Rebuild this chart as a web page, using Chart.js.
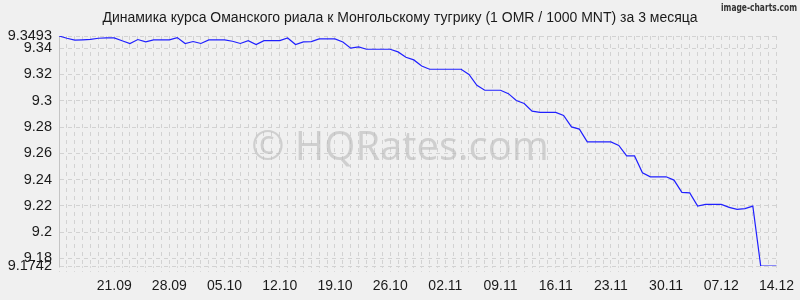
<!DOCTYPE html>
<html>
<head>
<meta charset="utf-8">
<script src="https://cdn.jsdelivr.net/npm/chart.js@4"></script>
<style>
    html, body { margin: 0; padding: 0; background: #f0f0f0; }
    #wrap { width: 800px; height: 300px; position: relative; }
</style>
</head>
<body>
<div id="wrap"><canvas id="rateChart" width="800" height="300"></canvas></div>
<script>
// Daily dates, 14.09 - 14.12
const dates = [
    '14.09', '15.09', '16.09', '17.09', '18.09', '19.09', '20.09', '21.09', '22.09', '23.09',
    '24.09', '25.09', '26.09', '27.09', '28.09', '29.09', '30.09', '01.10', '02.10', '03.10',
    '04.10', '05.10', '06.10', '07.10', '08.10', '09.10', '10.10', '11.10', '12.10', '13.10',
    '14.10', '15.10', '16.10', '17.10', '18.10', '19.10', '20.10', '21.10', '22.10', '23.10',
    '24.10', '25.10', '26.10', '27.10', '28.10', '29.10', '30.10', '31.10', '01.11', '02.11',
    '03.11', '04.11', '05.11', '06.11', '07.11', '08.11', '09.11', '10.11', '11.11', '12.11',
    '13.11', '14.11', '15.11', '16.11', '17.11', '18.11', '19.11', '20.11', '21.11', '22.11',
    '23.11', '24.11', '25.11', '26.11', '27.11', '28.11', '29.11', '30.11', '01.12', '02.12',
    '03.12', '04.12', '05.12', '06.12', '07.12', '08.12', '09.12', '10.12', '11.12', '12.12',
    '13.12', '14.12'
];

// OMR/MNT rate (per 1000 MNT)
const rates = [
    9.3493, 9.3476, 9.3461, 9.3464, 9.3468, 9.3476, 9.3478, 9.3478, 9.3457, 9.3436,
    9.3466, 9.3448, 9.3463, 9.3463, 9.3463, 9.3481, 9.3436, 9.3451, 9.3436, 9.3463,
    9.3463, 9.3463, 9.3453, 9.3436, 9.3458, 9.3428, 9.3458, 9.3458, 9.3458, 9.3478,
    9.3428, 9.3448, 9.3450, 9.3471, 9.3471, 9.3471, 9.3448, 9.3400, 9.3410, 9.3392,
    9.3392, 9.3392, 9.3392, 9.3372, 9.3331, 9.3311, 9.3265, 9.3240, 9.3240, 9.3240,
    9.3240, 9.3240, 9.3200, 9.3118, 9.3080, 9.3080, 9.3080, 9.3054, 9.3002, 9.2979,
    9.2921, 9.2911, 9.2911, 9.2911, 9.2888, 9.2801, 9.2784, 9.2687, 9.2687, 9.2687,
    9.2687, 9.2660, 9.2580, 9.2580, 9.2452, 9.2421, 9.2421, 9.2421, 9.2396, 9.2303,
    9.2299, 9.2198, 9.2211, 9.2211, 9.2211, 9.2188, 9.2173, 9.2179, 9.2198, 9.1742,
    9.1742, 9.1742
];

const xTickLabels = ['21.09', '28.09', '05.10', '12.10', '19.10', '26.10', '02.11',
    '09.11', '16.11', '23.11', '30.11', '07.12', '14.12'];
const yTicks = [9.1742, 9.18, 9.2, 9.22, 9.24, 9.26, 9.28, 9.3, 9.32, 9.34, 9.3493];

const titleText = 'Динамика курса Оманского риала к Монгольскому тугрику (1 OMR / 1000 MNT) за 3 месяца';

// Title, credit and watermark
const decorPlugin = {
    id: 'decor',
    beforeDraw(chart) {
        const ctx = chart.ctx;
        ctx.save();
        ctx.fillStyle = '#f0f0f0';
        ctx.fillRect(0, 0, chart.width, chart.height);
        ctx.fillStyle = '#1a1a1a';
        ctx.font = '14px "Liberation Sans", Arial, sans-serif';
        ctx.textAlign = 'center';
        ctx.textBaseline = 'middle';
        ctx.fillText(titleText, 400, 18);
        ctx.font = 'bold 10px "DejaVu Sans Condensed", "DejaVu Sans", sans-serif';
        ctx.textAlign = 'right';
        ctx.fillStyle = '#333';
        ctx.fillText('image-charts.com', 797, 8, 76);
        ctx.restore();
    },
    beforeDatasetsDraw(chart) {
        const ctx = chart.ctx;
        ctx.save();
        ctx.fillStyle = 'rgba(185, 185, 185, 0.6)';
        ctx.font = '40px "Open Sans", sans-serif';
        ctx.textAlign = 'center';
        ctx.textBaseline = 'alphabetic';
        ctx.fillText('© HQRates.com', 400, 160);
        ctx.restore();
    }
};

const ctx = document.getElementById('rateChart').getContext('2d');
new Chart(ctx, {
    type: 'line',
    data: {
        labels: dates,
        datasets: [{
            data: rates,
            borderColor: '#2020ff',
            borderWidth: 1.2,
            pointRadius: 0,
            tension: 0,
            fill: false
        }]
    },
    options: {
        responsive: false,
        animation: false,
        layout: { padding: { top: 36, right: 21, left: 0, bottom: 0 } },
        plugins: {
            legend: { display: false },
            tooltip: { enabled: false }
        },
        scales: {
            x: {
                offset: false,
                afterFit: function(scale) { scale.height = 34; },
                grid: {
                    color: '#d2d2d2',
                    drawTicks: true,
                    tickLength: 6,
                    tickColor: '#d8d8d8',
                    tickBorderDash: [2, 3]
                },
                // in v4 the grid line dash comes from border.dash
                border: { display: false, dash: [4, 4] },
                ticks: {
                    autoSkip: false,
                    maxRotation: 0,
                    padding: 6,
                    color: '#1a1a1a',
                    font: { family: '"Liberation Sans", Arial, sans-serif', size: 14 },
                    callback: function(value) {
                        const lbl = dates[value];
                        return xTickLabels.includes(lbl) ? lbl : '';
                    }
                }
            },
            y: {
                min: 9.1742,
                max: 9.3493,
                afterFit: function(scale) { scale.width = 59; },
                afterBuildTicks: function(scale) {
                    scale.ticks = yTicks.map(v => ({ value: v }));
                },
                grid: {
                    color: '#d2d2d2',
                    drawTicks: false
                },
                border: { display: true, color: '#c4c4c4', dash: [4, 4] },
                ticks: {
                    padding: 7,
                    color: '#1a1a1a',
                    font: { family: '"Liberation Sans", Arial, sans-serif', size: 14.5 },
                    callback: function(value) { return String(value); }
                }
            }
        }
    },
    plugins: [decorPlugin]
});
</script>
</body>
</html>
